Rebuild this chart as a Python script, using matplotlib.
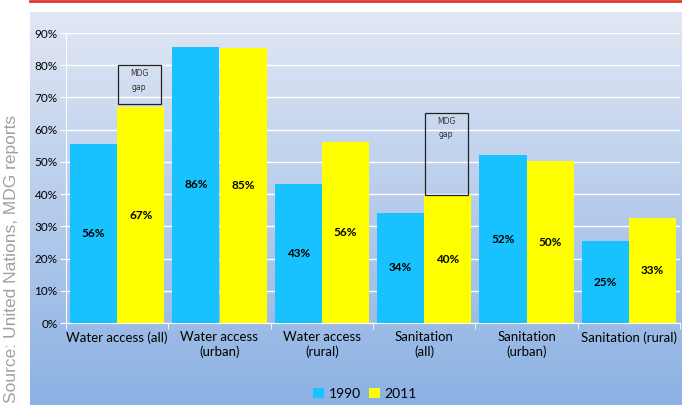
import numpy as np
import matplotlib
matplotlib.use("Agg")
import matplotlib.pyplot as plt
from matplotlib.patches import Rectangle

plt.rcParams['font.family'] = ['Lato', 'DejaVu Sans']

categories = ['Water access (all)', 'Water access\n(urban)', 'Water access\n(rural)',
              'Sanitation\n(all)', 'Sanitation\n(urban)', 'Sanitation (rural)']
v1990 = [55.6, 85.7, 43.2, 34.2, 52.0, 25.4]
v2011 = [67.0, 85.4, 56.2, 39.6, 50.2, 32.6]
lab1990 = ['56%', '86%', '43%', '34%', '52%', '25%']
lab2011 = ['67%', '85%', '56%', '40%', '50%', '33%']
# MDG gap boxes: (group index, bottom %, top %)
gaps = [(0, 68, 80), (3, 39.8, 65.2)]

fig = plt.figure(figsize=(6.82, 4.05), dpi=100)

# gradient background of the chart area
bg = fig.add_axes([30/682, 0, 652/682, 393/405])
grad = np.linspace(0, 1, 256).reshape(-1, 1)
top = np.array([0.885, 0.905, 0.957])
bot = np.array([0.545, 0.695, 0.890])
img = top + (bot - top) * grad[:, :, None]
bg.imshow(img, aspect='auto', extent=[0, 1, 0, 1], origin='upper')
bg.axis('off')

# red line at the top
fig.add_artist(plt.Line2D([30/682, 1], [0.998, 0.998], color='#e0382c', lw=2))

ax = fig.add_axes([66/682, (405-323)/405, 614/682, 290/405])
ax.set_facecolor('none')
x = np.arange(len(categories))
w = 0.46
b1 = ax.bar(x - w/2, v1990, w, color='#17c2ff', label='1990', zorder=3)
b2 = ax.bar(x + w/2, v2011, w, color='#ffff00', label='2011', zorder=3)

for bars, labs in [(b1, lab1990), (b2, lab2011)]:
    for r, t in zip(bars, labs):
        ax.text(r.get_x() + r.get_width()/2, r.get_height()/2, t,
                ha='center', va='center', fontsize=8.5, fontweight='bold', zorder=4)

for g, lo, hi in gaps:
    bx = x[g] + 0.005
    ax.add_patch(Rectangle((bx, lo), 0.42, hi - lo, fill=False,
                           edgecolor='#222222', lw=0.9, zorder=5))
    ax.text(bx + 0.21, hi - 1.3, 'MDG\ngap', ha='center', va='top',
            fontsize=5.5, color='#333333', linespacing=1.6, zorder=5,
            family='DejaVu Sans')

ax.set_ylim(0, 90)
ax.set_xlim(-0.5, len(categories) - 0.5)
ax.set_yticks(np.arange(0, 91, 10))
ax.set_yticklabels([f'{v}%' for v in range(0, 91, 10)], fontsize=8.5)
ax.set_xticks(x)
ax.set_xticklabels(categories, fontsize=9.5)
ax.set_xticks(np.arange(-0.5, len(categories)), minor=True)
ax.tick_params(axis='x', which='major', length=0, pad=6)
ax.tick_params(axis='x', which='minor', length=4, color='white')
ax.tick_params(axis='y', length=4, color='white', pad=2)
ax.grid(axis='y', color='white', lw=1, zorder=0)
for s in ['top', 'right']:
    ax.spines[s].set_visible(False)
ax.spines['left'].set_color('white')
ax.spines['bottom'].set_color('white')

fig.legend(handles=[b1, b2], loc='center', bbox_to_anchor=(0.535, 0.028),
           ncol=2, frameon=False, fontsize=10, handlelength=0.8, handleheight=0.8,
           handletextpad=0.3, columnspacing=0.6)

fig.text(0.017, 0.005, 'Source: United Nations, MDG reports', rotation=90,
         ha='center', va='bottom', fontsize=12.5, color='#a0a0a0',
         family='Liberation Sans')

plt.savefig('out.png', dpi=100)
